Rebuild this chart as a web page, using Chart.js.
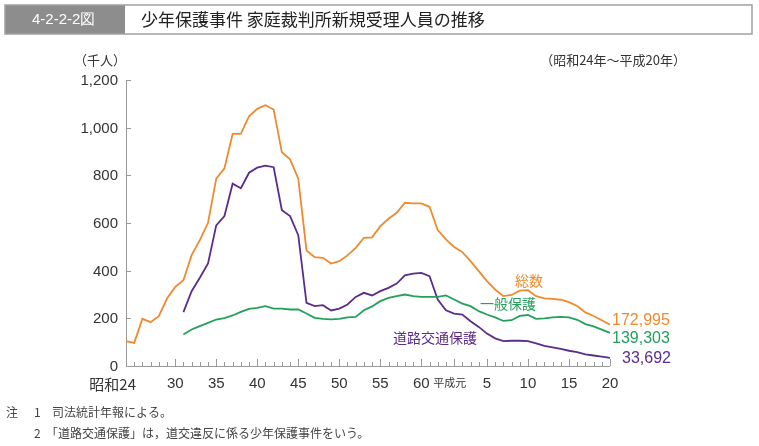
<!DOCTYPE html>
<html lang="ja">
<head>
<meta charset="utf-8">
<script src="https://cdn.jsdelivr.net/npm/chart.js@4.4.0/dist/chart.umd.min.js"></script>
<style>
  body { margin: 0; background: #fff; }
  canvas { display: block; }
</style>
</head>
<body>
<canvas id="juvenileChart" width="759" height="446"></canvas>
<script>
// 昭和24年(1949) ～ 平成20年(2008), 単位: 千人
const years = [
  1949, 1950, 1951, 1952, 1953, 1954, 1955, 1956, 1957, 1958,
  1959, 1960, 1961, 1962, 1963, 1964, 1965, 1966, 1967, 1968,
  1969, 1970, 1971, 1972, 1973, 1974, 1975, 1976, 1977, 1978,
  1979, 1980, 1981, 1982, 1983, 1984, 1985, 1986, 1987, 1988,
  1989, 1990, 1991, 1992, 1993, 1994, 1995, 1996, 1997, 1998,
  1999, 2000, 2001, 2002, 2003, 2004, 2005, 2006, 2007, 2008
];

const totalCases = [
  104, 97, 198, 184, 209, 283, 332, 360, 465, 528,
  601, 786, 829, 974, 974, 1048, 1079, 1094, 1076, 897,
  867, 786, 485, 457, 454, 430, 440, 464, 496, 538,
  540, 587, 618, 643, 685, 682, 682, 668, 570, 531,
  499, 478, 440, 398, 356, 321, 293, 298, 316, 318,
  293, 284, 282, 278, 268, 252, 225, 210, 192, 172.995
];

const generalCases = [
  null, null, null, null, null, null, null, 132, 153, 167,
  181, 195, 201, 212, 227, 240, 244, 251, 241, 241,
  237, 237, 220, 202, 198, 196, 198, 204, 206, 234,
  250, 272, 286, 293, 300, 293, 290, 290, 290, 296,
  279, 262, 251, 230, 216, 204, 189, 192, 210, 214,
  198, 200, 204, 206, 204, 194, 176, 166, 153, 139.303
];

const trafficCases = [
  null, null, null, null, null, null, null, 226, 314, 370,
  430, 590, 629, 765, 746, 811, 832, 841, 834, 654,
  629, 549, 265, 251, 255, 233, 241, 258, 290, 307,
  296, 314, 328, 346, 380, 388, 391, 377, 279, 234,
  220, 216, 188, 164, 136, 116, 104, 106, 106, 104,
  95, 84, 78, 72, 64, 58, 49, 44, 39, 33.692
];

const xTickYears = [1949, 1955, 1960, 1965, 1970, 1975, 1980, 1985, 1989, 1993, 1998, 2003, 2008];
const xTickText = ['昭和24', '30', '35', '40', '45', '50', '55', '60', '平成元', '5', '10', '15', '20'];
const yTicks = [0, 200, 400, 600, 800, 1000, 1200];

const seriesNames = ['総数', '一般保護', '道路交通保護'];
const endLabels = ['172,995', '139,303', '33,692'];

const ORANGE = '#f08a2e';
const GREEN = '#23a05c';
const PURPLE = '#5b2c8c';

const NUM_FONT = '"Liberation Sans", Arial, sans-serif';
const JP_FONT = '"Noto Sans CJK JP", sans-serif';

const decorPlugin = {
  id: 'decor',
  beforeDatasetsDraw(chart) {
    const ctx = chart.ctx;
    const xs = chart.scales.x;
    const ys = chart.scales.y;
    const x0 = xs.getPixelForValue(0);
    const x1 = xs.getPixelForValue(years.length - 1);
    const y0 = ys.getPixelForValue(0);
    const yTop = ys.getPixelForValue(1200);

    ctx.save();
    ctx.strokeStyle = '#9a9a9a';
    ctx.lineWidth = 1;

    // axes
    ctx.beginPath();
    ctx.moveTo(x0 + 0.5, yTop);
    ctx.lineTo(x0 + 0.5, y0 + 0.5);
    ctx.lineTo(x1, y0 + 0.5);
    ctx.stroke();

    // y ticks
    ctx.beginPath();
    yTicks.forEach(v => {
      const py = Math.round(ys.getPixelForValue(v)) + 0.5;
      ctx.moveTo(x0, py);
      ctx.lineTo(x0 + 5, py);
    });
    ctx.stroke();

    // x ticks, one per year
    ctx.beginPath();
    years.forEach((yr, i) => {
      const px = Math.round(xs.getPixelForValue(i)) + 0.5;
      const len = xTickYears.includes(yr) ? 7 : 4;
      ctx.moveTo(px, y0);
      ctx.lineTo(px, y0 - len);
    });
    ctx.stroke();

    // y labels
    ctx.fillStyle = '#333';
    ctx.font = '15px ' + NUM_FONT;
    ctx.textAlign = 'right';
    ctx.textBaseline = 'middle';
    yTicks.forEach(v => {
      ctx.fillText(v.toLocaleString('en-US'), x0 - 8, ys.getPixelForValue(v) + 1);
    });

    // x labels
    ctx.textBaseline = 'middle';
    xTickYears.forEach((yr, k) => {
      const px = xs.getPixelForValue(years.indexOf(yr));
      const txt = xTickText[k];
      if (txt === '昭和24') {
        ctx.font = '15px ' + JP_FONT;
        ctx.textAlign = 'right';
        ctx.fillText(txt, px + 10, 384);
      } else if (txt === '平成元') {
        ctx.font = '11px ' + JP_FONT;
        ctx.textAlign = 'left';
        ctx.fillText(txt, px - 21, 383);
      } else {
        ctx.font = '15px ' + NUM_FONT;
        ctx.textAlign = 'center';
        ctx.fillText(txt, px, 384);
      }
    });
    ctx.restore();
  },
  afterDraw(chart) {
    const ctx = chart.ctx;
    ctx.save();

    // title bar
    ctx.fillStyle = '#8d8d8d';
    ctx.fillRect(5, 5, 120, 29);
    ctx.strokeStyle = '#a0a0a0';
    ctx.lineWidth = 1.5;
    ctx.strokeRect(5, 5, 747, 29);
    ctx.fillStyle = '#fff';
    ctx.font = '15px ' + NUM_FONT;
    ctx.textAlign = 'left';
    ctx.textBaseline = 'middle';
    ctx.fillText('4-2-2-2図', 32, 20);
    ctx.fillStyle = '#222';
    ctx.font = '17px ' + JP_FONT;
    ctx.fillText('少年保護事件 家庭裁判所新規受理人員の推移', 141, 20);

    // unit and period
    ctx.fillStyle = '#333';
    ctx.font = '13px ' + JP_FONT;
    ctx.fillText('（千人）', 74, 60);
    ctx.textAlign = 'right';
    ctx.fillText('（昭和24年～平成20年）', 686, 60);

    // series names
    ctx.textAlign = 'left';
    ctx.font = '14px ' + JP_FONT;
    ctx.fillStyle = ORANGE;
    ctx.fillText(seriesNames[0], 515, 281);
    ctx.fillStyle = GREEN;
    ctx.fillText(seriesNames[1], 480, 304);
    ctx.fillStyle = PURPLE;
    ctx.fillText(seriesNames[2], 393, 338);

    // end values
    ctx.font = '16px ' + NUM_FONT;
    ctx.fillStyle = ORANGE;
    ctx.fillText(endLabels[0], 612, 321);
    ctx.fillStyle = GREEN;
    ctx.fillText(endLabels[1], 612, 339);
    ctx.fillStyle = PURPLE;
    ctx.fillText(endLabels[2], 622, 359);

    // notes
    ctx.fillStyle = '#444';
    ctx.font = '12px ' + JP_FONT;
    ctx.fillText('注', 6, 412);
    ctx.fillText('1', 34, 412);
    ctx.fillText('司法統計年報による。', 52, 412);
    ctx.fillText('2', 34, 433);
    ctx.fillText('「道路交通保護」は，道交違反に係る少年保護事件をいう。', 46, 433);
    ctx.restore();
  }
};

const ctx = document.getElementById('juvenileChart').getContext('2d');

const lineStyle = {
  borderWidth: 1.8,
  pointRadius: 0,
  tension: 0,
  fill: false,
  spanGaps: false
};

new Chart(ctx, {
  type: 'line',
  data: {
    labels: years,
    datasets: [
      Object.assign({ label: seriesNames[0], data: totalCases, borderColor: ORANGE }, lineStyle),
      Object.assign({ label: seriesNames[1], data: generalCases, borderColor: GREEN }, lineStyle),
      Object.assign({ label: seriesNames[2], data: trafficCases, borderColor: PURPLE }, lineStyle)
    ]
  },
  options: {
    responsive: false,
    animation: false,
    layout: {
      padding: { left: 126, right: 149, top: 80, bottom: 80 }
    },
    plugins: {
      legend: { display: false },
      tooltip: { enabled: false }
    },
    scales: {
      x: { display: false, offset: false },
      y: { display: false, min: 0, max: 1200 }
    }
  },
  plugins: [decorPlugin]
});
</script>
</body>
</html>
